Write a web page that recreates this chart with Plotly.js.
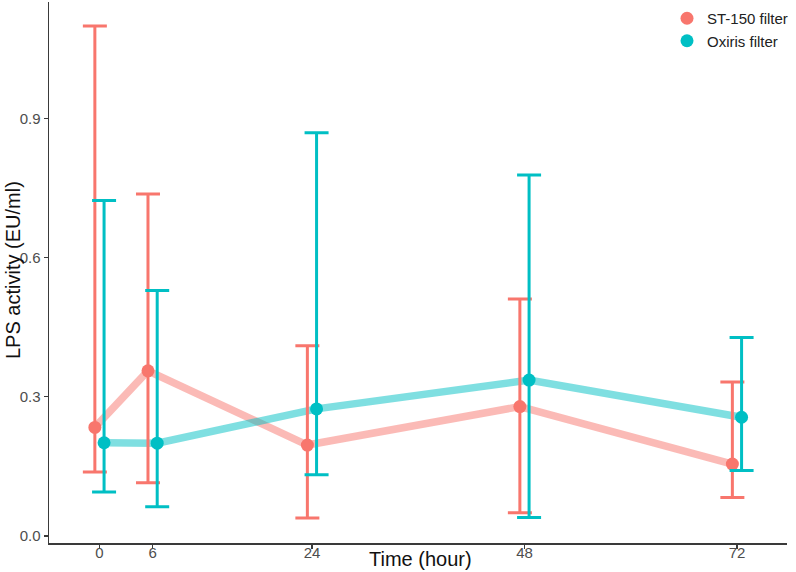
<!DOCTYPE html>
<html>
<head>
<meta charset="utf-8">
<script src="https://cdn.plot.ly/plotly-3.0.1.min.js"></script>
<style>html,body{margin:0;padding:0;background:#fff;}#chart{width:796px;height:572px;}</style>
</head>
<body>
<div id="chart"></div>
<script>
// ---- data ----
const times = [0, 6, 24, 48, 72];
const xTickLabels = ['0', '6', '24', '48', '72'];
const yTickVals = [0, 0.3, 0.6, 0.9];
const seriesNames = ['ST-150 filter', 'Oxiris filter'];
const st150Mean  = [0.234, 0.356, 0.196, 0.279, 0.155];
const st150Upper = [1.099, 0.737, 0.410, 0.511, 0.332];
const st150Lower = [0.138, 0.115, 0.039, 0.050, 0.083];
const oxirisMean  = [0.201, 0.200, 0.274, 0.336, 0.256];
const oxirisUpper = [0.723, 0.529, 0.869, 0.778, 0.428];
const oxirisLower = [0.095, 0.063, 0.132, 0.040, 0.141];

// ---- styling ----
const dodge = 0.52;
const red = '#F8766D', teal = '#00BFC4';
const font = 'Liberation Sans, Arial, sans-serif';

function lineTrace(means, offset, col) {
  return {
    x: times.map(t => t + offset), y: means, type: 'scatter', mode: 'lines',
    line: {color: col, width: 7.5}, opacity: 0.5, showlegend: false, hoverinfo: 'skip'
  };
}
function pointTrace(name, means, upper, lower, offset, col) {
  return {
    name: name, x: times.map(t => t + offset), y: means, type: 'scatter', mode: 'markers',
    marker: {color: col, size: 13},
    error_y: {
      type: 'data', symmetric: false,
      array: upper.map((u, i) => u - means[i]),
      arrayminus: lower.map((l, i) => means[i] - l),
      color: col, thickness: 3, width: 12
    }
  };
}

const data = [
  lineTrace(st150Mean, -dodge, red),
  lineTrace(oxirisMean, dodge, teal),
  pointTrace(seriesNames[0], st150Mean, st150Upper, st150Lower, -dodge, red),
  pointTrace(seriesNames[1], oxirisMean, oxirisUpper, oxirisLower, dodge, teal)
];

const layout = {
  width: 796, height: 572,
  margin: {l: 49, r: 9, t: 2, b: 29, pad: 0, autoexpand: false},
  paper_bgcolor: '#fff', plot_bgcolor: '#fff',
  font: {family: font, color: '#4d4d4d', size: 15},
  showlegend: true,
  legend: {
    x: 0.8374, xanchor: 'left', y: 1, yanchor: 'top',
    bgcolor: 'rgba(0,0,0,0)', font: {family: font, size: 15, color: '#222'},
    traceorder: 'normal'
  },
  xaxis: {
    range: [-5.70, 77.65], tickvals: times, ticktext: xTickLabels,
    showgrid: false, zeroline: false, showline: true, linecolor: '#3a3a3a', linewidth: 1.5,
    ticks: 'outside', ticklen: 4, tickwidth: 1.2, tickcolor: '#3a3a3a', ticklabelstandoff: -9,
    tickfont: {family: font, size: 15, color: '#4d4d4d'}, fixedrange: true
  },
  yaxis: {
    range: [-0.0151, 1.151], tickvals: yTickVals, tickformat: '.1f',
    showgrid: false, zeroline: false, showline: true, linecolor: '#3a3a3a', linewidth: 1.5,
    ticks: 'outside', ticklen: 4, tickwidth: 1.2, tickcolor: '#3a3a3a',
    tickfont: {family: font, size: 15, color: '#4d4d4d'}, fixedrange: true
  },
  annotations: [
    {text: 'Time (hour)', xref: 'paper', yref: 'paper', x: 0.504, y: 0, yshift: -16,
     xanchor: 'center', yanchor: 'middle', showarrow: false,
     font: {family: font, size: 20, color: '#111'}},
    {text: 'LPS activity (EU/ml)', xref: 'paper', yref: 'paper', x: 0, y: 0.5046, xshift: -36,
     xanchor: 'center', yanchor: 'middle', textangle: -90, showarrow: false,
     font: {family: font, size: 20, color: '#111'}}
  ]
};

Plotly.newPlot('chart', data, layout, {displayModeBar: false, staticPlot: true});
</script>
</body>
</html>
